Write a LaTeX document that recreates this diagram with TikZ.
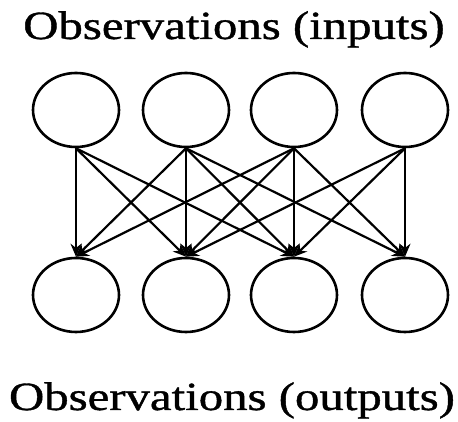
\documentclass[tikz,border=0pt]{standalone}
\usepackage{fontspec}
\setmainfont{Liberation Serif}
\newfontfamily\lblfont[FakeBold=0.9]{Liberation Serif}
\usetikzlibrary{shapes.geometric,arrows.meta}
\begin{document}
\begin{tikzpicture}[x=1pt,y=1pt,
  obs/.style={draw,ellipse,line width=2.6pt,minimum width=86pt,minimum height=74pt,inner sep=0pt},
  link/.style={line width=2.2pt,-{Stealth[length=13pt,width=11pt]}},
  vlink/.style={line width=1.2pt,-{Stealth[length=13pt,width=11pt]}},
  lbl/.style={anchor=base,inner sep=0pt,font=\lblfont\fontsize{40}{40}\selectfont}]
\useasboundingbox (0,0) rectangle (458,422);
\node[lbl] (tin) at (234,383) {\scalebox{1.22}[1]{Observations (inputs)}};
\node[lbl] (tout) at (232,12) {\scalebox{1.22}[1]{Observations (outputs)}};
\foreach \i/\x in {1/76,2/186,3/294,4/405}{
  \node[obs] (t\i) at (\x,312) {};
  \node[obs] (b\i) at (\x,127) {};
}
\foreach \i in {1,2,3,4}{ \draw[vlink] (t\i.south) -- (b\i.north); }
\draw[link] (t1.south) -- (b2.north);
\draw[link] (t1.south) -- (b3.north);
\draw[link] (t2.south) -- (b1.north);
\draw[link] (t2.south) -- (b3.north);
\draw[link] (t2.south) -- (b4.north);
\draw[link] (t3.south) -- (b1.north);
\draw[link] (t3.south) -- (b2.north);
\draw[link] (t3.south) -- (b4.north);
\draw[link] (t4.south) -- (b2.north);
\draw[link] (t4.south) -- (b3.north);
\end{tikzpicture}
\end{document}
